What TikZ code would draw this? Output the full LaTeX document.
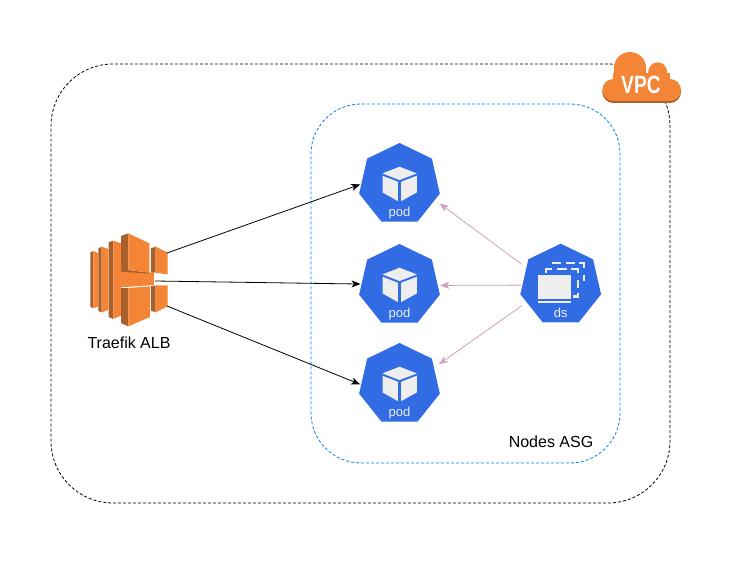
\documentclass[tikz,border=0pt]{standalone}
\usepackage{fontspec}
\setmainfont{Liberation Sans}
\usetikzlibrary{arrows.meta,shapes.geometric}
\definecolor{awsL}{HTML}{F58536}
\definecolor{awsD}{HTML}{A9602B}
\definecolor{k8s}{HTML}{326CE5}
\definecolor{pale}{HTML}{EEEEEE}
\definecolor{asg}{HTML}{007FFF}
\definecolor{mauve}{HTML}{CDA2BE}
\tikzset{
  container/.style={draw,rectangle,line width=0.8pt,dash pattern=on 3pt off 2pt,minimum width=#1},
  hepta/.style={regular polygon,regular polygon sides=7,fill=k8s,minimum size=82.8pt,inner sep=0pt,outer sep=1pt},
  lbl/.style={font=\fontsize{16}{18}\selectfont,text=black,inner sep=0pt},
  hlbl/.style={font=\fontsize{13}{15}\selectfont,text=pale,inner sep=0pt},
  flow/.style={-{Stealth[length=9pt,width=7pt,inset=2.5pt]},line width=0.8pt},
  dsflow/.style={-{Stealth[length=9pt,width=7pt,inset=2.5pt]},line width=0.8pt,draw=mauve},
  cube/.pic={
    \begin{scope}[scale=1/3]
    \fill[pale] (0,-53)--(52,-33)--(0,-13)--(-51,-33)--cycle;
    \fill[pale] (-51,-26)--(-5,-8)--(-5,50)--(-51,24)--cycle;
    \fill[pale] (5,-8)--(52,-26)--(52,24)--(5,50)--cycle;
    \end{scope}
  },
  dsicon/.pic={
    \begin{scope}[scale=1/3]
    \begin{scope}[pale,line width=2.4pt]
    \draw (-25,-66)--(1,-66);
    \draw (15,-66)--(43,-66);
    \draw (55,-66)--(69,-66)--(69,-51);
    \draw (69,-31)--(69,-11);
    \draw (-44,-36)--(-44,-48)--(-25,-48);
    \draw (-12,-48)--(18,-48);
    \draw (31,-48)--(51,-48)--(51,-36);
    \draw (51,-16)--(51,9);
    \draw (38,34)--(51,34)--(51,24);
    \end{scope}
    \fill[pale] (-67,-29) rectangle (30,41);
    \fill[pale] (-67,49) rectangle (30,55);
    \end{scope}
  },
  albicon/.pic={
    \begin{scope}[shift={(-129,-280)},shift={(80,225)},scale=1/3]
    \fill[awsD] (31,82)--(40,78)--(40,250)--(31,245)--cycle;
    \fill[awsL] (40,78)--(54,84)--(54,245)--(40,250)--cycle;
    \fill[awsD] (55,70)--(65,65)--(65,262)--(55,258)--cycle;
    \fill[awsL] (65,65)--(85,72)--(85,255)--(65,262)--cycle;
    \fill[awsD] (86,52)--(100,47)--(100,282)--(86,276)--cycle;
    \fill[awsL] (100,47)--(123,55)--(123,272)--(100,282)--cycle;
    \fill[awsL] (120,140)--(222,143)--(222,180)--(120,187)--cycle;
    \fill[awsD] (123,33)--(145,25)--(145,135)--(208,143)--(208,146)--(123,140)--cycle;
    \fill[awsL] (145,25)--(208,55)--(208,143)--(145,135)--cycle;
    \fill[awsD] (123,189)--(145,189)--(145,304)--(123,294)--cycle;
    \fill[awsL] (145,189)--(210,184)--(210,276)--(145,304)--cycle;
    \fill[awsD] (213,70)--(227,65)--(227,143)--(213,143)--cycle;
    \fill[awsL] (227,65)--(263,83)--(263,148)--(227,143)--cycle;
    \fill[awsD] (213,184)--(227,181)--(227,262)--(213,257)--cycle;
    \fill[awsL] (227,181)--(263,181)--(263,244)--(227,262)--cycle;
    \end{scope}
  },
  cloudshape/.pic={
    \begin{scope}[shift={(590,40)},scale=1/3]
    \foreach \c/\dy in {awsD/6,awsL/0}{
      \begin{scope}[shift={(0,\dy)}]
      \fill[\c] (70,150) circle (33);
      \fill[\c] (240,150) circle (33);
      \fill[\c] (120,84) circle (48);
      \fill[\c] (203,95) circle (28);
      \fill[\c] (70,98) rectangle (240,183);
      \end{scope}
    }
    \end{scope}
  }
}
\begin{document}
\begin{tikzpicture}[x=1pt,y=-1pt]
\useasboundingbox (0,0) rectangle (732,562);
\fill[white] (0,0) rectangle (732,562);
% containers
\node[container=619pt,minimum height=439pt,rounded corners=62pt,draw=black] (vpcbox) at (360.5,283.5) {};
\node[container=309pt,minimum height=359pt,rounded corners=50pt,draw=asg] (asgbox) at (465.5,283.5) {};
% cloud
\pic at (0,0) {cloudshape};
\node[font=\fontsize{25}{28}\selectfont\bfseries,text=white,inner sep=0pt,xscale=0.77] (vpclabel) at (641,84.5) {VPC};
% pods
\node[hepta] (pod1) at (399.5,184.4) {};
\node[hepta] (pod2) at (399.5,285.4) {};
\node[hepta] (pod3) at (399.5,384.4) {};
\node[hepta] (ds) at (560.7,285.1) {};
\pic at (pod1) {cube};
\pic at (pod2) {cube};
\pic at (pod3) {cube};
\pic at (ds) {dsicon};
\node[hlbl] (pod1l) at (399.5,213) {pod};
\node[hlbl] (pod2l) at (399.5,314) {pod};
\node[hlbl] (pod3l) at (399.5,413) {pod};
\node[hlbl] (dsl) at (560.7,313) {ds};
% ALB
\node[minimum width=78pt,minimum height=94pt,inner sep=0pt] (alb) at (129,280) {};
\pic at (alb) {albicon};
\coordinate (albN) at (167,253);
\coordinate (albM) at (155,281);
\coordinate (albS) at (167,306);
\node[lbl] (alblabel) at (129,343) {Traefik ALB};
\node[lbl] (asglabel) at (551,442) {Nodes ASG};
% connectors
\draw[flow] (albN) -- (pod1.west);
\draw[flow] (albM) -- (pod2.178);
\draw[flow] (albS) -- (pod3.west);
\draw[dsflow,shorten <=5pt,shorten >=5pt] (ds.153) -- (pod1.-24);
\draw[dsflow,shorten >=1.5pt] (ds.180) -- (pod2.0);
\draw[dsflow,shorten <=5pt,shorten >=5pt] (ds.207) -- (pod3.26);
\end{tikzpicture}
\end{document}
